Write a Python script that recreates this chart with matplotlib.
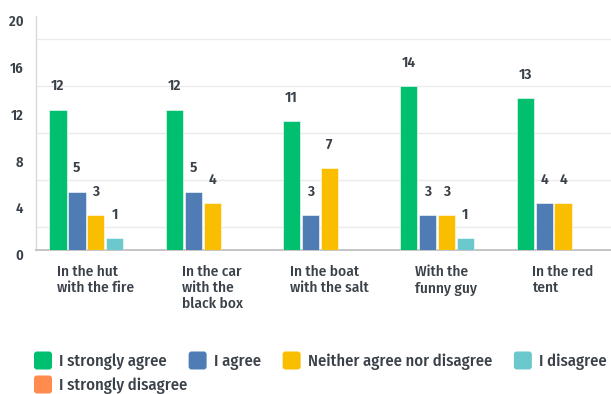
import matplotlib
matplotlib.use("Agg")
import matplotlib.pyplot as plt
import matplotlib.transforms as mtransforms
from matplotlib.patches import FancyBboxPatch, Patch
from matplotlib.legend_handler import HandlerBase
import numpy as np

FONT = ["Fira Sans Condensed", "Roboto", "DejaVu Sans"]
plt.rcParams["font.family"] = FONT

categories = [
    "In the hut\nwith the fire",
    "In the car\nwith the\nblack box",
    "In the boat\nwith the salt",
    "With the\nfunny guy",
    "In the red\ntent",
]
series_names = ["I strongly agree", "I agree", "Neither agree nor disagree",
                "I disagree", "I strongly disagree"]
strongly_agree = [12, 12, 11, 14, 13]
agree = [5, 5, 3, 3, 4]
neither = [3, 4, 7, 3, 4]
disagree = [1, 0, 0, 1, 0]
strongly_disagree = [0, 0, 0, 0, 0]
series_values = [strongly_agree, agree, neither, disagree, strongly_disagree]
colors = ["#00bf6f", "#507cb6", "#f9be00", "#6bc8cd", "#ff8b4f"]
y_ticks = [0, 4, 8, 12, 16, 20]

TEXT = "#3b4149"
W, H = 611, 394
fig = plt.figure(figsize=(W / 100, H / 100), dpi=100)
ax = fig.add_axes([36 / W, 1 - 250 / H, 1 - 36 / W, (250 - 16) / H])

step = 0.162
width = 0.148
x = np.arange(len(categories))
for j, (vals, col) in enumerate(zip(series_values, colors)):
    xs = x + (j - 2) * step
    ax.bar(xs, vals, width=width, color=col, edgecolor="white",
           linewidth=0.4, zorder=3)
    for xi, v in zip(xs, vals):
        if v > 0:
            ax.annotate(str(v), (xi, v), xytext=(0, 16.8), textcoords="offset points",
                        ha="center", va="center", fontsize=11, fontweight="semibold",
                        color=TEXT)

ax.set_xlim(-0.512, 4.41)
ax.set_ylim(0, 20)

# y axis
ax.set_yticks(y_ticks)
ax.set_yticklabels([str(t) for t in y_ticks], fontsize=10.5, fontweight="semibold",
                   color=TEXT)
ax.tick_params(axis="y", which="both", length=0, pad=9)
off = mtransforms.ScaledTranslation(0, -4.5 / 100, fig.dpi_scale_trans)
for lab in ax.get_yticklabels():
    lab.set_transform(lab.get_transform() + off)
ax.set_yticks(np.arange(2, 20, 2), minor=True)
ax.grid(False)
ax.grid(which="minor", axis="y", color="#ebebeb", linewidth=1, zorder=0)
ax.set_axisbelow(True)

# x category labels, centred under each group, lines left-aligned
ax.set_xticks(x)
ax.set_xticklabels(categories, fontsize=11, color=TEXT, fontweight="medium",
                   multialignment="left", linespacing=1.16)
ax.tick_params(axis="x", length=0, pad=11)

for s in ["top", "right"]:
    ax.spines[s].set_visible(False)
ax.spines["left"].set_color("#d9d9d9")
ax.spines["left"].set_linewidth(1)
ax.spines["bottom"].set_color("#c4c4c4")
ax.spines["bottom"].set_linewidth(1.4)


class RoundSquare(HandlerBase):
    def create_artists(self, legend, orig_handle, xdescent, ydescent, width, height,
                       fontsize, trans):
        side = width
        cy = -ydescent + height / 2
        p = FancyBboxPatch((-xdescent, cy - side / 2), side, side,
                           boxstyle="round,pad=0,rounding_size=%f" % (side * 0.16),
                           fc=orig_handle.get_facecolor(), ec="none", transform=trans)
        return [p]


handles = [Patch(facecolor=c) for c in colors]
leg_fs = 12
common = dict(frameon=False, handlelength=1.08, handletextpad=0.42, columnspacing=1.32,
              borderpad=0, borderaxespad=0, prop={"size": leg_fs, "weight": "medium"},
              handler_map={Patch: RoundSquare()}, labelcolor=TEXT)
fig.legend(handles[:4], series_names[:4], loc="center left", ncol=4,
           bbox_to_anchor=(34 / W, 1 - 362 / H), **common)
fig.legend(handles[4:], series_names[4:], loc="center left", ncol=1,
           bbox_to_anchor=(34 / W, 1 - 386 / H), **common)

fig.savefig("out.png", dpi=100)
